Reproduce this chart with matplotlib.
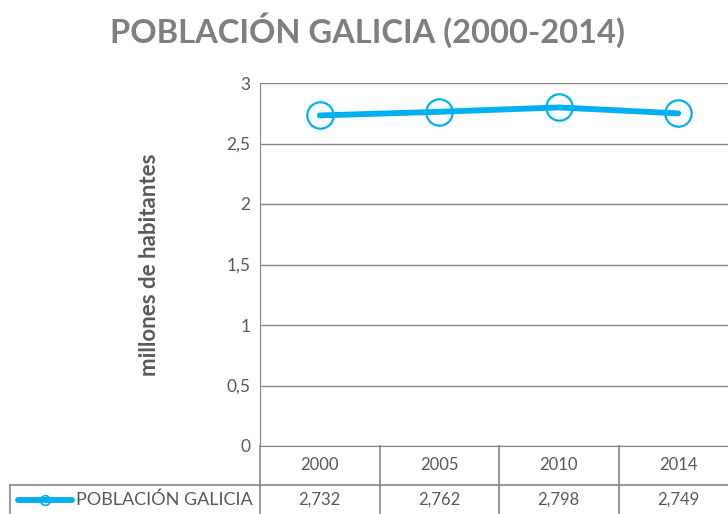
import matplotlib.pyplot as plt
import matplotlib.transforms as mtransforms
from matplotlib.lines import Line2D

# datos
years = ['2000', '2005', '2010', '2014']
poblacion = [2.732, 2.762, 2.798, 2.749]
serie = 'POBLACIÓN GALICIA'
yticks = [0, 0.5, 1, 1.5, 2, 2.5, 3]

plt.rcParams['font.family'] = ['Lato', 'DejaVu Sans']
gris = '#595959'
linea = '#868686'
azul = '#00B0F0'

fig = plt.figure(figsize=(7.28, 5.14), dpi=100)
ax = fig.add_axes([260 / 728, 68 / 514, 478 / 728, 363 / 514])

x = list(range(len(years)))
ax.plot(x, poblacion, color=azul, lw=4.2, marker='o', ms=19, mfc='none',
        mec=azul, mew=1.6, solid_capstyle='round', zorder=3)

ax.set_xlim(-0.5, len(years) - 0.5)
ax.set_ylim(0, 3)
ax.set_yticks(yticks)
ax.set_yticklabels([f'{v:g}'.replace('.', ',') for v in yticks], color=gris, fontsize=12.5)
ax.tick_params(axis='y', length=0, pad=7)
ax.set_xticks([])
ax.grid(axis='y', color=linea, lw=1)
for s in ['top', 'right']:
    ax.spines[s].set_visible(False)
ax.spines['left'].set_color(linea)
ax.spines['bottom'].set_color(linea)
ax.set_axisbelow(True)

ax.set_ylabel('millones de habitantes', fontsize=16, fontweight='bold', color=gris)
ax.yaxis.set_label_coords(-100 / 478, 0.5)

# tabla de datos
trans = mtransforms.blended_transform_factory(ax.transData, ax.transAxes)
r1 = -39 / 363
r2 = -80 / 363
x_izq = -0.5 - 250 / 119.5
for xb in [-0.5 + i for i in range(len(years) + 1)]:
    ax.add_line(Line2D([xb, xb], [0, r2], transform=trans, color=linea, lw=1.2, clip_on=False))
ax.add_line(Line2D([x_izq, len(years) - 0.5], [r1, r1], transform=trans, color=linea, lw=1.2, clip_on=False))
ax.add_line(Line2D([x_izq, x_izq], [r1, r2], transform=trans, color=linea, lw=1.2, clip_on=False))

for i, (yr, v) in enumerate(zip(years, poblacion)):
    ax.text(i, r1 / 2, yr, transform=trans, ha='center', va='center', color=gris, fontsize=12)
    ax.text(i, (r1 + (-68 / 363)) / 2, f'{v:.3f}'.replace('.', ','), transform=trans,
            ha='center', va='center', color=gris, fontsize=12)

# leyenda en la tabla
yl = (r1 + (-68 / 363)) / 2
xl0 = x_izq + 8 / 119.5
xl1 = x_izq + 62 / 119.5
ax.add_line(Line2D([xl0, xl1], [yl, yl], transform=trans, color=azul, lw=4.2,
                   solid_capstyle='round', clip_on=False))
ax.add_line(Line2D([(xl0 + xl1) / 2], [yl], transform=trans, marker='o', ms=7, mfc='none',
                   mec=azul, mew=1.2, clip_on=False))
ax.text(xl1 + 4 / 119.5, yl, serie, transform=trans, ha='left', va='center', color=gris, fontsize=13)

fig.text(367 / 728, 1 - 30 / 514, 'POBLACIÓN GALICIA (2000-2014)', ha='center', va='center',
         fontsize=23.5, fontweight='bold', color='#7F7F7F')

fig.savefig('out.png', dpi=100)
